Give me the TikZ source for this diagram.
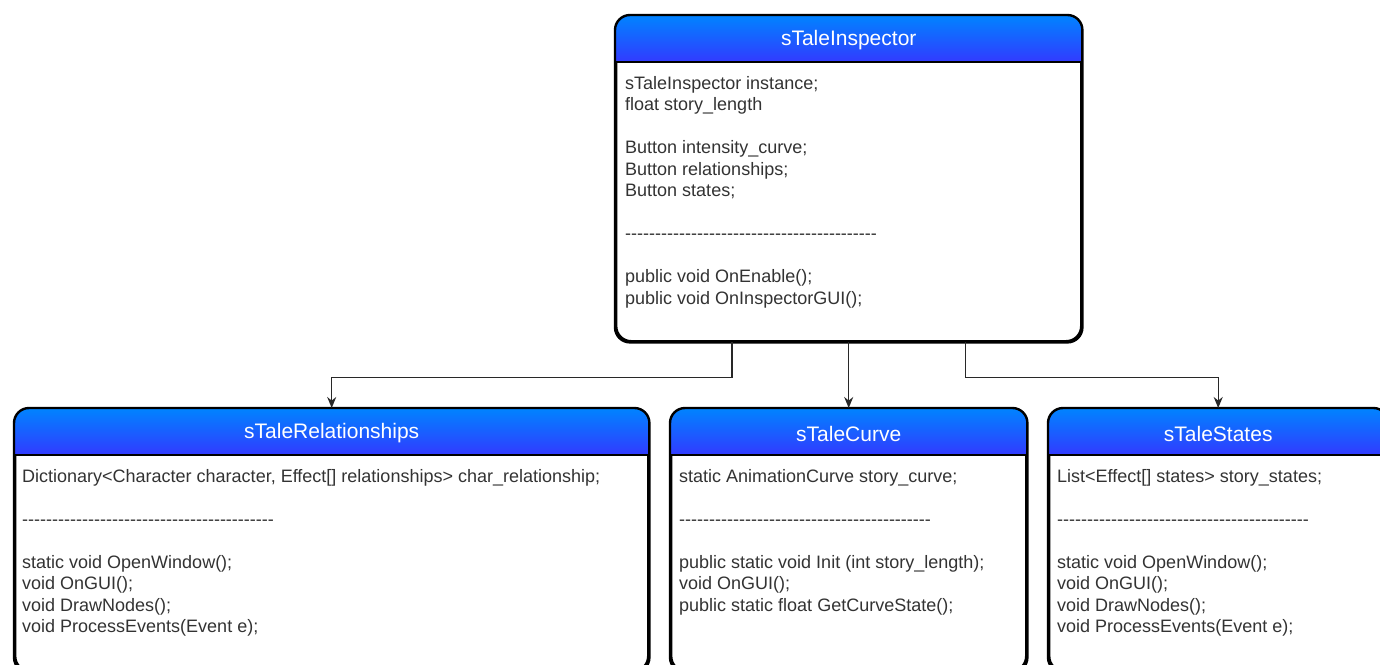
\documentclass[tikz,border=0pt]{standalone}
\usepackage{fontspec}
\setmainfont{Liberation Sans}
\usetikzlibrary{arrows.meta,calc}

\definecolor{hdtop}{RGB}{0,132,255}
\definecolor{hdbot}{RGB}{50,58,255}
\definecolor{ink}{RGB}{51,51,51}
\definecolor{wire}{RGB}{40,40,40}

% one line of a class body
\newcommand\rowtxt[1]{\hbox{#1}}
% separator row of 42 hyphens (braces keep them from merging into dashes)
\newcommand\seprow{\rowtxt{-{}-{}-{}-{}-{}-{}-{}-{}-{}-{}-{}-{}-{}-{}-{}-{}-{}-{}-{}-{}-{}-{}-{}-{}-{}-{}-{}-{}-{}-{}-{}-{}-{}-{}-{}-{}-{}-{}-{}-{}-{}-}}

% gradient header strip of a class box, clipped to its rounded outline
\newcommand\classheader[1]{%
  \begin{scope}
    \clip[rounded corners=15pt] (#1.north west) rectangle (#1.south east);
    \shade[top color=hdtop, bottom color=hdbot]
      (#1.north west) rectangle ([yshift=-47pt]#1.north east);
  \end{scope}
  \draw[line width=2.4pt] ([yshift=-47pt]#1.north west) -- ([yshift=-47pt]#1.north east);
  \draw[line width=2.4pt, rounded corners=15pt] (#1.north west) rectangle (#1.south east);
}

\tikzset{
  classbox/.style={draw=black, line width=2.4pt, rounded corners=15pt, fill=white,
    inner sep=0pt, anchor=north west},
  classtitle/.style={text=white, inner sep=0pt, font=\fontsize{21}{25}\selectfont},
  classbody/.style={text=ink, anchor=base west, inner sep=0pt, font=\fontsize{18}{21.5}\selectfont},
  conn/.style={draw=wire, line width=1.4pt, -{Stealth[length=11pt,width=9pt]}}
}

\begin{document}
\begin{tikzpicture}[x=1pt, y=-1pt]
\useasboundingbox (0,0) rectangle (1380,664);
\clip (0,0) rectangle (1380,664);

% class boxes
\node[classbox, minimum width=465pt, minimum height=325pt] (top) at (615,15) {};
\node[classbox, minimum width=633pt, minimum height=262pt] (lr) at (14,408) {};
\node[classbox, minimum width=355pt, minimum height=262pt] (cv) at (670,408) {};
\node[classbox, minimum width=338pt, minimum height=262pt] (st) at (1048,408) {};

\classheader{top}
\classheader{lr}
\classheader{cv}
\classheader{st}

% titles
\node[classtitle] (topname) at ($(top.north)+(0,25.5)$) {sTaleInspector};
\node[classtitle] (lrname) at ($(lr.north)+(0,25.5)$) {sTaleRelationships};
\node[classtitle] (cvname) at ($(cv.north)+(0,25.5)$) {sTaleCurve};
\node[classtitle] (stname) at ($(st.north)+(0,25.5)$) {sTaleStates};

% members
\node[classbody] (topbody) at (625,89) {\vtop{%
  \rowtxt{sTaleInspector instance;}
  \rowtxt{float story\_length}
  \rowtxt{}
  \rowtxt{Button intensity\_curve;}
  \rowtxt{Button relationships;}
  \rowtxt{Button states;}
  \rowtxt{}
  \seprow
  \rowtxt{}
  \rowtxt{public void OnEnable();}
  \rowtxt{public void OnInspectorGUI();}}};

\node[classbody] (lrbody) at (22,482) {\vtop{%
  \rowtxt{Dictionary<Character character, Effect[] relationships> char\_relationship;}
  \rowtxt{}
  \seprow
  \rowtxt{}
  \rowtxt{static void OpenWindow();}
  \rowtxt{void OnGUI();}
  \rowtxt{void DrawNodes();}
  \rowtxt{void ProcessEvents(Event e);}}};

\node[classbody] (cvbody) at (679,482) {\vtop{%
  \rowtxt{static AnimationCurve story\_curve;}
  \rowtxt{}
  \seprow
  \rowtxt{}
  \rowtxt{public static void Init (int story\_length);}
  \rowtxt{void OnGUI();}
  \rowtxt{public static float GetCurveState();}}};

\node[classbody] (stbody) at (1057,482) {\vtop{%
  \rowtxt{List<Effect[] states> story\_states;}
  \rowtxt{}
  \seprow
  \rowtxt{}
  \rowtxt{static void OpenWindow();}
  \rowtxt{void OnGUI();}
  \rowtxt{void DrawNodes();}
  \rowtxt{void ProcessEvents(Event e);}}};

% connectors
\draw[conn] ($(top.south west)!0.25!(top.south east)$) -- ++(0,35) -| (lr.north);
\draw[conn] (top.south) -- (cv.north);
\draw[conn] ($(top.south west)!0.75!(top.south east)$) -- ++(0,35) -| (st.north);
\end{tikzpicture}
\end{document}
